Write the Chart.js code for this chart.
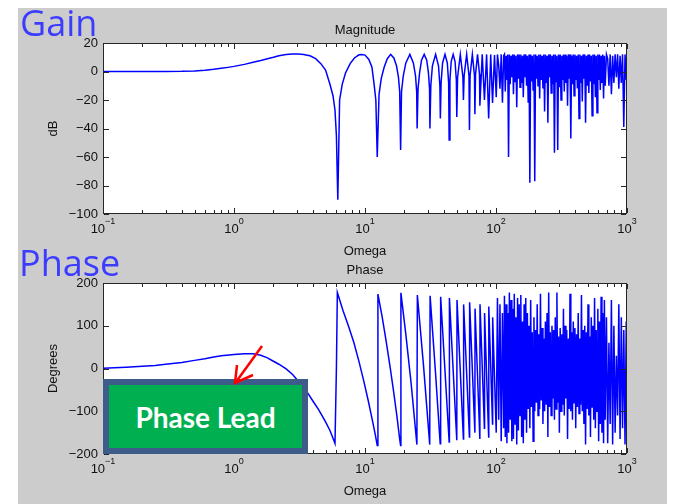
<!DOCTYPE html>
<html>
<head>
<meta charset="utf-8">
<script src="https://cdn.jsdelivr.net/npm/chart.js@4.4.1/dist/chart.umd.min.js"></script>
<style>
  body { margin: 0; width: 677px; height: 504px; overflow: hidden; position: relative; background: #fff; }
  #panel { position: absolute; left: 18px; top: 8px; width: 649px; height: 496px; background: #cccccc; }
  canvas { position: absolute; left: 0; top: 0; }
  .big { position: absolute; font-family: "Open Sans", sans-serif; font-size: 36px; line-height: 36px; color: #3c3cff; }
  #lead {
    position: absolute; left: 103px; top: 379px; width: 205px; height: 75px; box-sizing: border-box;
    border: 6px solid #3e5c8a; background: #00b050; color: #fff;
    font: bold 28px Lato, sans-serif; display: flex; align-items: center; justify-content: center;
  }
  #arrow { position: absolute; left: 0; top: 0; }
</style>
</head>
<body>
<div id="panel"></div>
<canvas id="magChart" width="677" height="504"></canvas>
<canvas id="phaseChart" width="677" height="504"></canvas>
<div class="big" style="left:20px;top:5px">Gain</div>
<div class="big" style="left:19px;top:245px">Phase</div>
<div id="lead">Phase Lead</div>
<svg id="arrow" width="677" height="504">
  <line x1="262" y1="346" x2="236" y2="382" stroke="#ff0000" stroke-width="2.5"/>
  <polyline points="237,365 235,383 253,375" fill="none" stroke="#ff0000" stroke-width="2.5"/>
</svg>
<script>
// ----------------- Data -----------------
// smooth part before the first notch
const magLowOmega = [0.1, 0.15, 0.2, 0.3, 0.4, 0.5, 0.6, 0.7, 0.8, 0.9, 1.0, 1.2, 1.4, 1.6, 1.8, 2.0, 2.2, 2.5, 2.8, 3.1, 3.4, 3.8, 4.2, 4.6, 5.0, 5.4, 5.7, 5.9, 6.05];
const magLowDb = [0, 0, 0, 0, 0.1, 0.4, 0.9, 1.5, 2.2, 2.9, 3.6, 5.0, 6.5, 7.7, 9.0, 10.0, 11.0, 11.9, 12.2, 12.3, 12.0, 11.0, 9.0, 5.5, 1.0, -9, -17, -27, -45];

// notches that can still be told apart
const magMidOmega = [6.2, 6.4, 6.7, 7.1, 7.7, 8.3, 9.0, 9.4, 10.0, 10.7, 11.3, 11.7, 12.1, 12.4,
  12.8, 13.3, 14.0, 14.8, 15.7, 16.6, 17.4, 18.0, 18.4, 18.7,
  19.0, 19.6, 20.5, 22.0, 23.4, 24.3, 24.8, 25.0,
  25.4, 26.1, 27.0, 28.3, 29.6, 30.5, 31.1, 31.3,
  31.8, 32.7, 34.6, 36.4, 37.3, 37.6,
  38.1, 39.1, 40.8, 42.5, 43.5, 43.9,
  44.5, 45.5, 47.1, 48.7, 49.8, 50.2,
  50.9, 53.4, 55.9, 56.4,
  57.1, 59.7, 62.2, 62.7,
  63.4, 66.0, 68.5, 69.0,
  69.8, 72.3, 74.8, 75.3,
  78.5, 81.6, 84.8, 87.9, 91.1, 94.1, 97.4];
const magMidDb = [-90, -20, -9, -1, 5.5, 9.5, 11.7, 12.0, 11.5, 8.5, 3, -8, -20, -60,
  -16, -5, 3, 9, 12, 9.5, 4, -4, -14, -55,
  -14, -3, 6, 12, 6, -3, -14, -40,
  -12, -1, 8, 12, 8, -1, -12, -40,
  -10, 4, 12, 4, -10, -33,
  -8, 6, 12, 6, -8, -48,
  -6, 7, 12, 7, -6, -32,
  -4, 12, -4, -20,
  -3, 12, -3, -41,
  -3, 12, -3, -30,
  -2, 12, -2, -24,
  12, -20, 12, -33, 12, -22, 11.5];

// omega grids shared by both plots: start of the scribble, the dense band, the tail
const startOmega = [100.4, 102.6, 104.9, 107.2, 109.6, 112.0, 114.4];
const denseOmega = [116.0, 117.7, 119.4, 121.1, 122.9, 124.7, 126.5, 128.3, 130.2, 132.1,
  134.0, 135.9, 137.9, 139.9, 141.9, 144.0, 146.1, 148.2, 150.3, 152.5,
  154.7, 157.0, 159.3, 161.6, 163.9, 166.3, 168.7, 171.1, 173.6, 176.1,
  178.7, 181.3, 183.9, 186.6, 189.3, 192.0, 194.8, 197.6, 200.5, 203.4,
  206.3, 209.3, 212.3, 215.4, 218.5, 221.7, 224.9, 228.2, 231.5, 234.9,
  238.3, 241.8, 245.3, 248.9, 252.5, 256.2, 259.9, 263.7, 267.5, 271.4,
  275.3, 279.3, 283.4, 287.5, 291.7, 295.9, 300.2, 304.6, 309.0, 313.5,
  318.0, 322.6, 327.3, 332.0, 336.8, 341.7, 346.7, 351.7, 356.8, 362.0,
  367.2, 372.5, 377.9, 383.4, 389.0, 394.6, 400.3, 406.1, 412.0, 418.0,
  424.1, 430.3, 436.5, 442.8, 449.2, 455.7, 462.3, 469.0, 475.8, 482.7,
  489.7, 496.8, 504.0, 511.3, 518.7, 526.2, 533.8, 541.5, 549.3, 557.3,
  565.4, 573.6, 581.9, 590.3, 598.9, 607.6, 616.4, 625.3, 634.4, 643.6,
  652.9, 662.4, 672.0, 681.7];
const tailOmega = [696.9, 712.2, 727.9, 743.9, 760.3, 777.0, 794.1, 811.6, 829.4, 847.7,
  866.3, 885.4, 904.9, 924.8, 945.1, 965.9, 987.1, 1000];

const magStartDb = [-18, 12, 4, -12, 12, -22, 11];
const magDenseDb = [12, -14, 11, -6, 12, -60, 12, -9, 11, -4,
  12, -16, 12, -7, 11, -25, 12, -5, 12, -11,
  12, -8, 11, -18, 12, -4, 12, -10, 11, -22,
  12, -78, 12, -7, 11, -13, 12, -77, 12, -5,
  11, -10, 12, -19, 12, -6, 11, -12, 12, -28,
  12, -8, 11, -36, 12, -4, 12, -15, 11, -9,
  12, -57, 12, -7, 11, -55, 12, -11, 12, -20,
  11, -6, 12, -14, 12, -8, 11, -24, 12, -5,
  12, -47, 11, -9, 12, -17, 12, -6, 11, -12,
  12, -33, 12, -8, 11, -21, 12, -5, 12, -36,
  11, -10, 12, -15, 12, -7, 11, -31, 12, -9,
  12, -18, 11, -29, 12, -6, 12, -13, 11, -8,
  12, -19, 11, -10];
const magTailDb = [12, 9, -10, 12, -16, 11, -8, 12, -4, 12, -12, 11, -8, 12, -39, 12, -6, 10];

const phaseLowOmega = [0.1, 0.15, 0.2, 0.25, 0.3, 0.4, 0.5, 0.6, 0.7, 0.8, 1.0, 1.2, 1.4, 1.6, 1.8, 2.0, 2.2, 2.5, 2.8, 3.1, 3.4, 3.7, 4.0, 4.4, 4.7, 5.0, 5.4, 5.7, 5.9];
const phaseLowDeg = [0.5, 3, 5, 7, 10, 14, 19, 23, 27, 30, 33, 34.5, 34.5, 31, 25, 17, 10, -1, -14, -30, -44, -60, -76, -95, -110, -125, -145, -163, -175];

const phaseMidOmega = [6.05, 6.15, 6.8, 7.5, 8.2, 9.0, 9.8, 10.6, 11.4, 12.0, 12.4,
  12.55, 13.5, 14.5, 15.5, 16.5, 17.5, 18.4, 18.7,
  18.8, 20.5, 22.5, 24.9, 25.1, 28.0, 31.2, 31.4, 34.5, 37.5,
  37.8, 43.9, 44.1, 50.2, 50.4, 56.4, 56.6, 62.7, 62.9, 69.0,
  69.2, 75.3, 75.5, 81.6, 81.8, 87.9, 88.1, 94.1, 94.3];
const phaseMidDeg = [0, 178, 135, 98, 62, 16, -30, -76, -122, -156, -180,
  174, 122, 64, 6, -52, -110, -165, -180,
  177, 80, -35, -178, 172, 5, -178, 170, -8, -176,
  168, -172, 165, -168, 160, -165, 150, -160, 155, -150,
  140, -165, 150, -140, 130, -160, 145, -130, 120];

const phaseStartDeg = [-150, 165, -120, 150, -170, 130, -140];
const phaseDenseDeg = [170, -160, 150, -175, 130, -150, 178, -120, 160, -170,
  140, -165, 175, -130, 120, -178, 165, -145, 150, -110,
  172, -160, 110, -175, 150, -120, 165, -150, 130, -95,
  100, -140, 160, -90, 85, -170, 120, -100, 90, -80,
  150, -110, 80, -95, 175, -75, 95, -130, 70, -100,
  110, -85, 130, -160, 178, -90, 85, -110, 100, -70,
  90, -120, 120, -95, 178, -80, 75, -150, 95, -100,
  80, -85, 140, -110, 100, -70, 90, -165, 70, -95,
  175, -100, 85, -120, 110, -80, 95, -140, 80, -90,
  130, -105, 70, -85, 172, -100, 90, -130, 100, -178,
  85, -95, 150, -110, 75, -160, 120, -90, 100, -120,
  165, -140, 90, -100, 140, -170, 110, -130, 168, -150,
  130, -175, 160, -120];
const phaseTailDeg = [120, -175, 60, -130, 160, -178, 100, -150, 30, -110, 150, -165, 120, -140, 90, -178, 110, 50];

// ----------------- Axis ticks -----------------
const xDecades = [0.1, 1, 10, 100, 1000];
const xExponents = ["\u22121", "0", "1", "2", "3"];
const xMinorSteps = [2, 3, 4, 5, 6, 7, 8, 9];
const magTicks = [-100, -80, -60, -40, -20, 0, 20];
const phaseTicks = [-200, -100, 0, 100, 200];

// ----------------- Helpers -----------------
const toPoints = (xs, ys) => xs.map((v, i) => ({ x: v, y: ys[i] }));
const fmt = v => (v < 0 ? "\u2212" + Math.abs(v) : String(v));
const FONT = '"Liberation Sans", Arial, sans-serif';

// MATLAB-ish box, inward ticks and labels
const matlabAxes = {
  id: "matlabAxes",
  beforeDatasetsDraw(chart) {
    const { ctx, chartArea: a } = chart;
    ctx.save();
    ctx.fillStyle = "#ffffff";
    ctx.fillRect(a.left, a.top, a.right - a.left, a.bottom - a.top);
    ctx.restore();
  },
  afterDatasetsDraw(chart, args, opts) {
    const { ctx, chartArea: a, scales: { x, y } } = chart;
    ctx.save();
    ctx.strokeStyle = "#262626";
    ctx.lineWidth = 1;
    ctx.strokeRect(a.left + 0.5, a.top + 0.5, a.right - a.left - 1, a.bottom - a.top - 1);

    const vTick = (v, len) => {
      const px = Math.round(x.getPixelForValue(v)) + 0.5;
      ctx.beginPath();
      ctx.moveTo(px, a.bottom - 1); ctx.lineTo(px, a.bottom - 1 - len);
      ctx.moveTo(px, a.top + 1); ctx.lineTo(px, a.top + 1 + len);
      ctx.stroke();
    };
    xDecades.forEach((d, i) => {
      vTick(d, 5);
      if (i < xDecades.length - 1) xMinorSteps.forEach(s => vTick(d * s, 3));
    });
    opts.ticks.forEach(v => {
      const py = Math.round(y.getPixelForValue(v)) + 0.5;
      ctx.beginPath();
      ctx.moveTo(a.left + 1, py); ctx.lineTo(a.left + 6, py);
      ctx.moveTo(a.right - 1, py); ctx.lineTo(a.right - 6, py);
      ctx.stroke();
    });

    ctx.fillStyle = "#111";
    ctx.textBaseline = "middle";
    ctx.font = "13px " + FONT;
    ctx.textAlign = "right";
    opts.ticks.forEach(v => ctx.fillText(fmt(v), a.left - 5, y.getPixelForValue(v)));

    // 10^n labels
    ctx.textAlign = "left";
    xDecades.forEach((d, i) => {
      const px = x.getPixelForValue(d);
      ctx.font = "13px " + FONT;
      const wBase = ctx.measureText("10").width;
      ctx.font = "9px " + FONT;
      const wExp = ctx.measureText(xExponents[i]).width;
      const start = px - (wBase + wExp) / 2;
      ctx.font = "13px " + FONT;
      ctx.fillText("10", start, a.bottom + 15);
      ctx.font = "9px " + FONT;
      ctx.fillText(xExponents[i], start + wBase, a.bottom + 8);
    });

    ctx.font = "13px " + FONT;
    ctx.textAlign = "center";
    const cx = (a.left + a.right) / 2;
    ctx.fillText(opts.title, cx, a.top - 13);
    ctx.fillText("Omega", cx, a.bottom + 37);
    ctx.translate(53, (a.top + a.bottom) / 2);
    ctx.rotate(-Math.PI / 2);
    ctx.fillText(opts.yLabel, 0, 0);
    ctx.restore();
  }
};

function makeBode(canvasId, points, yMin, yMax, padding, axisOpts) {
  return new Chart(document.getElementById(canvasId), {
    type: "scatter",
    data: {
      datasets: [{
        data: points,
        showLine: true,
        borderColor: "#0000ff",
        borderWidth: 1.5,
        pointRadius: 0,
        tension: 0
      }]
    },
    options: {
      responsive: false,
      animation: false,
      events: [],
      layout: { padding },
      plugins: { legend: { display: false }, tooltip: { enabled: false }, matlabAxes: axisOpts },
      scales: {
        x: { type: "logarithmic", min: 0.1, max: 1000, display: false },
        y: { type: "linear", min: yMin, max: yMax, display: false }
      }
    },
    plugins: [matlabAxes]
  });
}

// ----------------- Init -----------------
const magPoints = [
  ...toPoints(magLowOmega, magLowDb),
  ...toPoints(magMidOmega, magMidDb),
  ...toPoints(startOmega, magStartDb),
  ...toPoints(denseOmega, magDenseDb),
  ...toPoints(tailOmega, magTailDb)
];
const phasePoints = [
  ...toPoints(phaseLowOmega, phaseLowDeg),
  ...toPoints(phaseMidOmega, phaseMidDeg),
  ...toPoints(startOmega, phaseStartDeg),
  ...toPoints(denseOmega, phaseDenseDeg),
  ...toPoints(tailOmega, phaseTailDeg)
];

makeBode("magChart", magPoints, -100, 20,
  { left: 103, top: 43, right: 50, bottom: 290 },
  { ticks: magTicks, title: "Magnitude", yLabel: "dB" });
makeBode("phaseChart", phasePoints, -200, 200,
  { left: 103, top: 283, right: 50, bottom: 50 },
  { ticks: phaseTicks, title: "Phase", yLabel: "Degrees" });
</script>
</body>
</html>
